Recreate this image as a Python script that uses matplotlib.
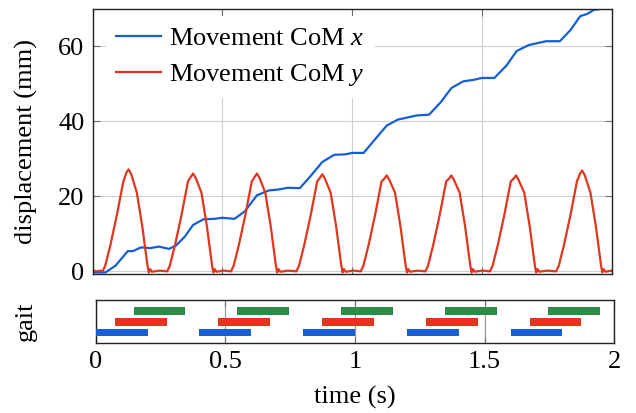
import numpy as np
import matplotlib
matplotlib.use('Agg')
import matplotlib.pyplot as plt

plt.rcParams['font.family'] = ['Liberation Serif', 'DejaVu Serif']
plt.rcParams['mathtext.fontset'] = 'custom'
plt.rcParams['mathtext.rm'] = 'Liberation Serif'
plt.rcParams['mathtext.it'] = 'Liberation Serif:italic'

# CoM x displacement (mm) over time (s)
com_x_t = [0.0, 0.049, 0.089, 0.135, 0.155, 0.186, 0.221, 0.255, 0.294, 0.321,
           0.354, 0.387, 0.427, 0.467, 0.5, 0.546, 0.586, 0.633, 0.679, 0.712,
           0.752, 0.798, 0.838, 0.885, 0.931, 0.971, 1.0, 1.044, 1.09, 1.133,
           1.176, 1.216, 1.249, 1.296, 1.342, 1.382, 1.428, 1.468, 1.499, 1.548,
           1.594, 1.634, 1.681, 1.714, 1.747, 1.8, 1.84, 1.879, 1.906, 1.932,
           1.985, 2.0]
com_x = [-0.3, -0.3, 1.6, 5.4, 5.4, 6.4, 6.2, 6.6, 6.0, 6.9,
         9.2, 12.4, 13.9, 14.0, 14.3, 14.0, 16.0, 20.3, 21.6, 21.8,
         22.3, 22.2, 25.3, 29.2, 31.1, 31.2, 31.6, 31.6, 35.4, 38.9,
         40.5, 41.1, 41.6, 41.8, 45.2, 48.9, 50.7, 51.1, 51.6, 51.6,
         54.9, 58.8, 60.4, 60.9, 61.4, 61.4, 64.3, 68.1, 68.7, 69.8,
         70.2, 70.5]

# CoM y displacement (mm)
com_y_t = [0.0, 0.015, 0.03,
           0.038, 0.048, 0.068, 0.093, 0.118, 0.130, 0.138, 0.148, 0.170, 0.191, 0.211, 0.216, 0.221, 0.228, 0.258,
           0.287, 0.297, 0.317, 0.342, 0.367, 0.379, 0.387, 0.397, 0.419, 0.440, 0.460, 0.465, 0.470, 0.477, 0.507,
           0.533, 0.543, 0.563, 0.588, 0.613, 0.625, 0.633, 0.643, 0.665, 0.686, 0.706, 0.711, 0.716, 0.723, 0.753,
           0.785, 0.795, 0.815, 0.840, 0.865, 0.877, 0.885, 0.895, 0.917, 0.938, 0.958, 0.963, 0.968, 0.975, 1.005,
           1.033, 1.043, 1.063, 1.088, 1.113, 1.125, 1.133, 1.143, 1.165, 1.186, 1.206, 1.211, 1.216, 1.223, 1.253,
           1.282, 1.292, 1.312, 1.337, 1.362, 1.374, 1.382, 1.392, 1.414, 1.435, 1.455, 1.460, 1.465, 1.472, 1.502,
           1.531, 1.541, 1.561, 1.586, 1.611, 1.623, 1.631, 1.641, 1.663, 1.684, 1.704, 1.709, 1.714, 1.721, 1.751,
           1.786, 1.796, 1.816, 1.841, 1.866, 1.878, 1.886, 1.896, 1.918, 1.939, 1.959, 1.964, 1.969, 1.976, 2.0]
com_y = [0.3, 0.0, 0.2,
         0.0, 1.5, 7.0, 15.0, 24.0, 26.4, 27.2, 26.0, 21.0, 12.0, 1.5, -0.3, 0.6, -0.1, 0.2,
         0.0, 1.5, 7.0, 15.0, 24.0, 25.3, 26.1, 24.9, 21.0, 12.0, 1.5, -0.3, 0.6, -0.1, 0.2,
         0.0, 1.5, 7.0, 15.0, 24.0, 25.3, 26.1, 24.9, 21.0, 12.0, 1.5, -0.3, 0.6, -0.1, 0.2,
         0.0, 1.5, 7.0, 15.0, 24.0, 25.1, 25.9, 24.7, 21.0, 12.0, 1.5, -0.3, 0.6, -0.1, 0.2,
         0.0, 1.5, 7.0, 15.0, 24.0, 24.8, 25.6, 24.4, 21.0, 12.0, 1.5, -0.3, 0.6, -0.1, 0.2,
         0.0, 1.5, 7.0, 15.0, 24.0, 24.8, 25.6, 24.4, 21.0, 12.0, 1.5, -0.3, 0.6, -0.1, 0.2,
         0.0, 1.5, 7.0, 15.0, 24.0, 24.8, 25.6, 24.4, 21.0, 12.0, 1.5, -0.3, 0.6, -0.1, 0.2,
         0.0, 1.5, 7.0, 15.0, 24.0, 26.1, 26.9, 25.7, 21.0, 12.0, 1.5, -0.3, 0.6, -0.1, 0.2]

# gait phases: start times (s), each lasting gait_len
gait_blue = [0.0, 0.4, 0.8, 1.2, 1.6]
gait_red = [0.073, 0.473, 0.873, 1.273, 1.673]
gait_green = [0.146, 0.546, 0.946, 1.346, 1.746]
gait_len = 0.2

blue = '#165ed6'
red = '#e0361d'
green = '#2e8a44'
grid_c = '#cfcfcf'
tick_c = '#6e6e6e'
spine_c = '#222222'
fs = 19

fig = plt.figure(figsize=(6.36, 4.13), dpi=100)
ax = fig.add_axes([0.1458, 0.3366, 0.816, 0.6416])
axg = fig.add_axes([0.1505, 0.1702, 0.8154, 0.1041])

ax.plot(com_x_t, com_x, color=blue, lw=1.6, label='Movement CoM $x$')
ax.plot(com_y_t, com_y, color=red, lw=1.6, label='Movement CoM $y$')
ax.set_xlim(0, 2)
ax.set_ylim(-0.7, 70)
ax.set_xticks([0, 0.5, 1, 1.5, 2])
ax.set_yticks([0, 20, 40, 60])
ax.set_xticklabels([])
ax.grid(True, color=grid_c, lw=0.8)
ax.set_axisbelow(True)
ax.tick_params(direction='in', top=True, right=True, length=5, color=tick_c,
               labelsize=fs, pad=6)
ax.set_ylabel('displacement (mm)', fontsize=fs)
ax.yaxis.set_label_coords(-0.105, 0.5)
leg = ax.legend(loc='upper left', bbox_to_anchor=(0.025, 0.974), borderaxespad=0,
                fontsize=fs, frameon=True, fancybox=False, framealpha=1,
                handlelength=1.7, handletextpad=0.3, labelspacing=0.45, borderpad=0.4)
leg.get_frame().set_edgecolor('none')

for starts, row, c in [(gait_blue, 0.95, blue), (gait_red, 1.95, red), (gait_green, 2.95, green)]:
    axg.barh([row] * len(starts), [gait_len] * len(starts), left=starts, height=0.72,
             color=c, zorder=3)
axg.set_xlim(0, 2)
axg.set_ylim(0, 4)
axg.set_xticks([0, 0.5, 1, 1.5, 2])
axg.set_xticklabels(['0', '0.5', '1', '1.5', '2'])
axg.set_yticks([])
axg.grid(True, axis='x', color='#999999', lw=0.9)
axg.tick_params(direction='in', top=True, length=4, color=tick_c, labelsize=fs, pad=6)
axg.set_ylabel('gait', fontsize=fs)
axg.yaxis.set_label_coords(-0.113, 0.5)
axg.set_xlabel('time (s)', fontsize=fs, labelpad=9)

for a in (ax, axg):
    for s in a.spines.values():
        s.set_color(spine_c)
        s.set_linewidth(1.0)

fig.savefig('out.png', dpi=100)
